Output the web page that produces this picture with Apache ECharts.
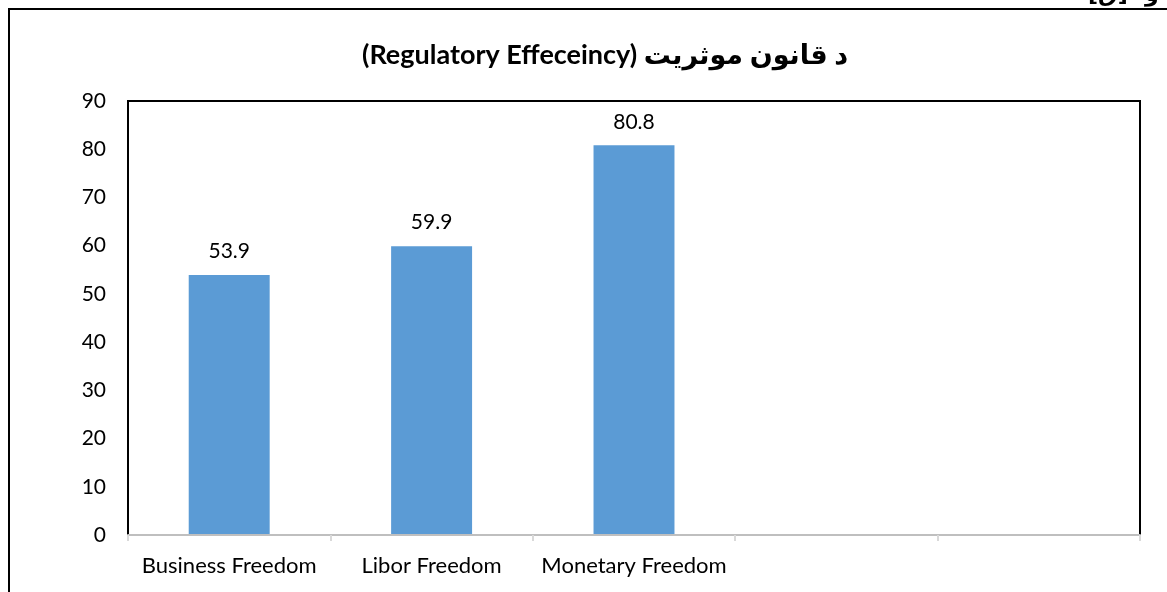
<!DOCTYPE html>
<html>
<head>
<meta charset="utf-8">
<script src="https://cdn.jsdelivr.net/npm/echarts@6/dist/echarts.min.js"></script>
<style>
html,body{margin:0;padding:0;background:#fff;}
#c{width:1167px;height:592px;}
</style>
</head>
<body>
<div id="c"></div>
<script>
var titleText = '(Regulatory Effeceincy) د قانون موثریت';
var categories = ['Business Freedom', 'Libor Freedom', 'Monetary Freedom', '', ''];
var values = [53.9, 59.9, 80.8, null, null];
var yMin = 0, yMax = 90, yStep = 10;
var FONT = 'Lato, "Open Sans", sans-serif';

var chart = echarts.init(document.getElementById('c'));
chart.setOption({
  animation: false,
  backgroundColor: '#fff',
  title: {
    text: titleText,
    left: 357,
    top: 37,
    textStyle: {fontFamily: 'Lato, "DejaVu Sans", sans-serif', fontWeight: 'bold', fontSize: 27, color: '#000'}
  },
  graphic: [
    {type: 'rect', shape: {x: 9, y: 9, width: 1200, height: 640}, style: {fill: 'none', stroke: '#000', lineWidth: 2}, z: 10},
    {type: 'text', left: 1088, top: -16, style: {text: '[ق]', font: 'bold 22px "DejaVu Sans", sans-serif', fill: '#000'}, z: 10},
    {type: 'text', left: 1110, top: -14, style: {text: '•', font: 'bold 18px "DejaVu Sans", sans-serif', fill: '#000'}, z: 10},
    {type: 'text', left: 1145, top: -16, style: {text: 'و', font: 'bold 22px "DejaVu Sans", sans-serif', fill: '#000'}, z: 10}
  ],
  grid: {left: 128, right: 27, top: 101, bottom: 57, show: true, borderColor: '#000', borderWidth: 2, backgroundColor: 'transparent'},
  xAxis: {
    type: 'category',
    data: categories,
    axisLine: {show: true, lineStyle: {color: '#BFBFBF', width: 2}},
    axisTick: {show: true, alignWithLabel: false, length: 6, lineStyle: {color: '#D9D9D9', width: 2}},
    axisLabel: {color: '#000', fontSize: 22, fontFamily: FONT, margin: 20, interval: 0},
    z: 5
  },
  yAxis: {
    type: 'value',
    min: yMin, max: yMax, interval: yStep,
    splitLine: {show: false},
    axisLine: {show: true, lineStyle: {color: '#000', width: 2}},
    axisTick: {show: false},
    axisLabel: {color: '#000', fontSize: 21, fontFamily: FONT, margin: 22}
  },
  series: [{
    type: 'bar',
    data: values,
    barWidth: '40%',
    itemStyle: {color: '#5B9BD5'},
    label: {show: true, position: 'top', distance: 13, color: '#000', fontSize: 21, fontFamily: FONT}
  }]
});
</script>
</body>
</html>
